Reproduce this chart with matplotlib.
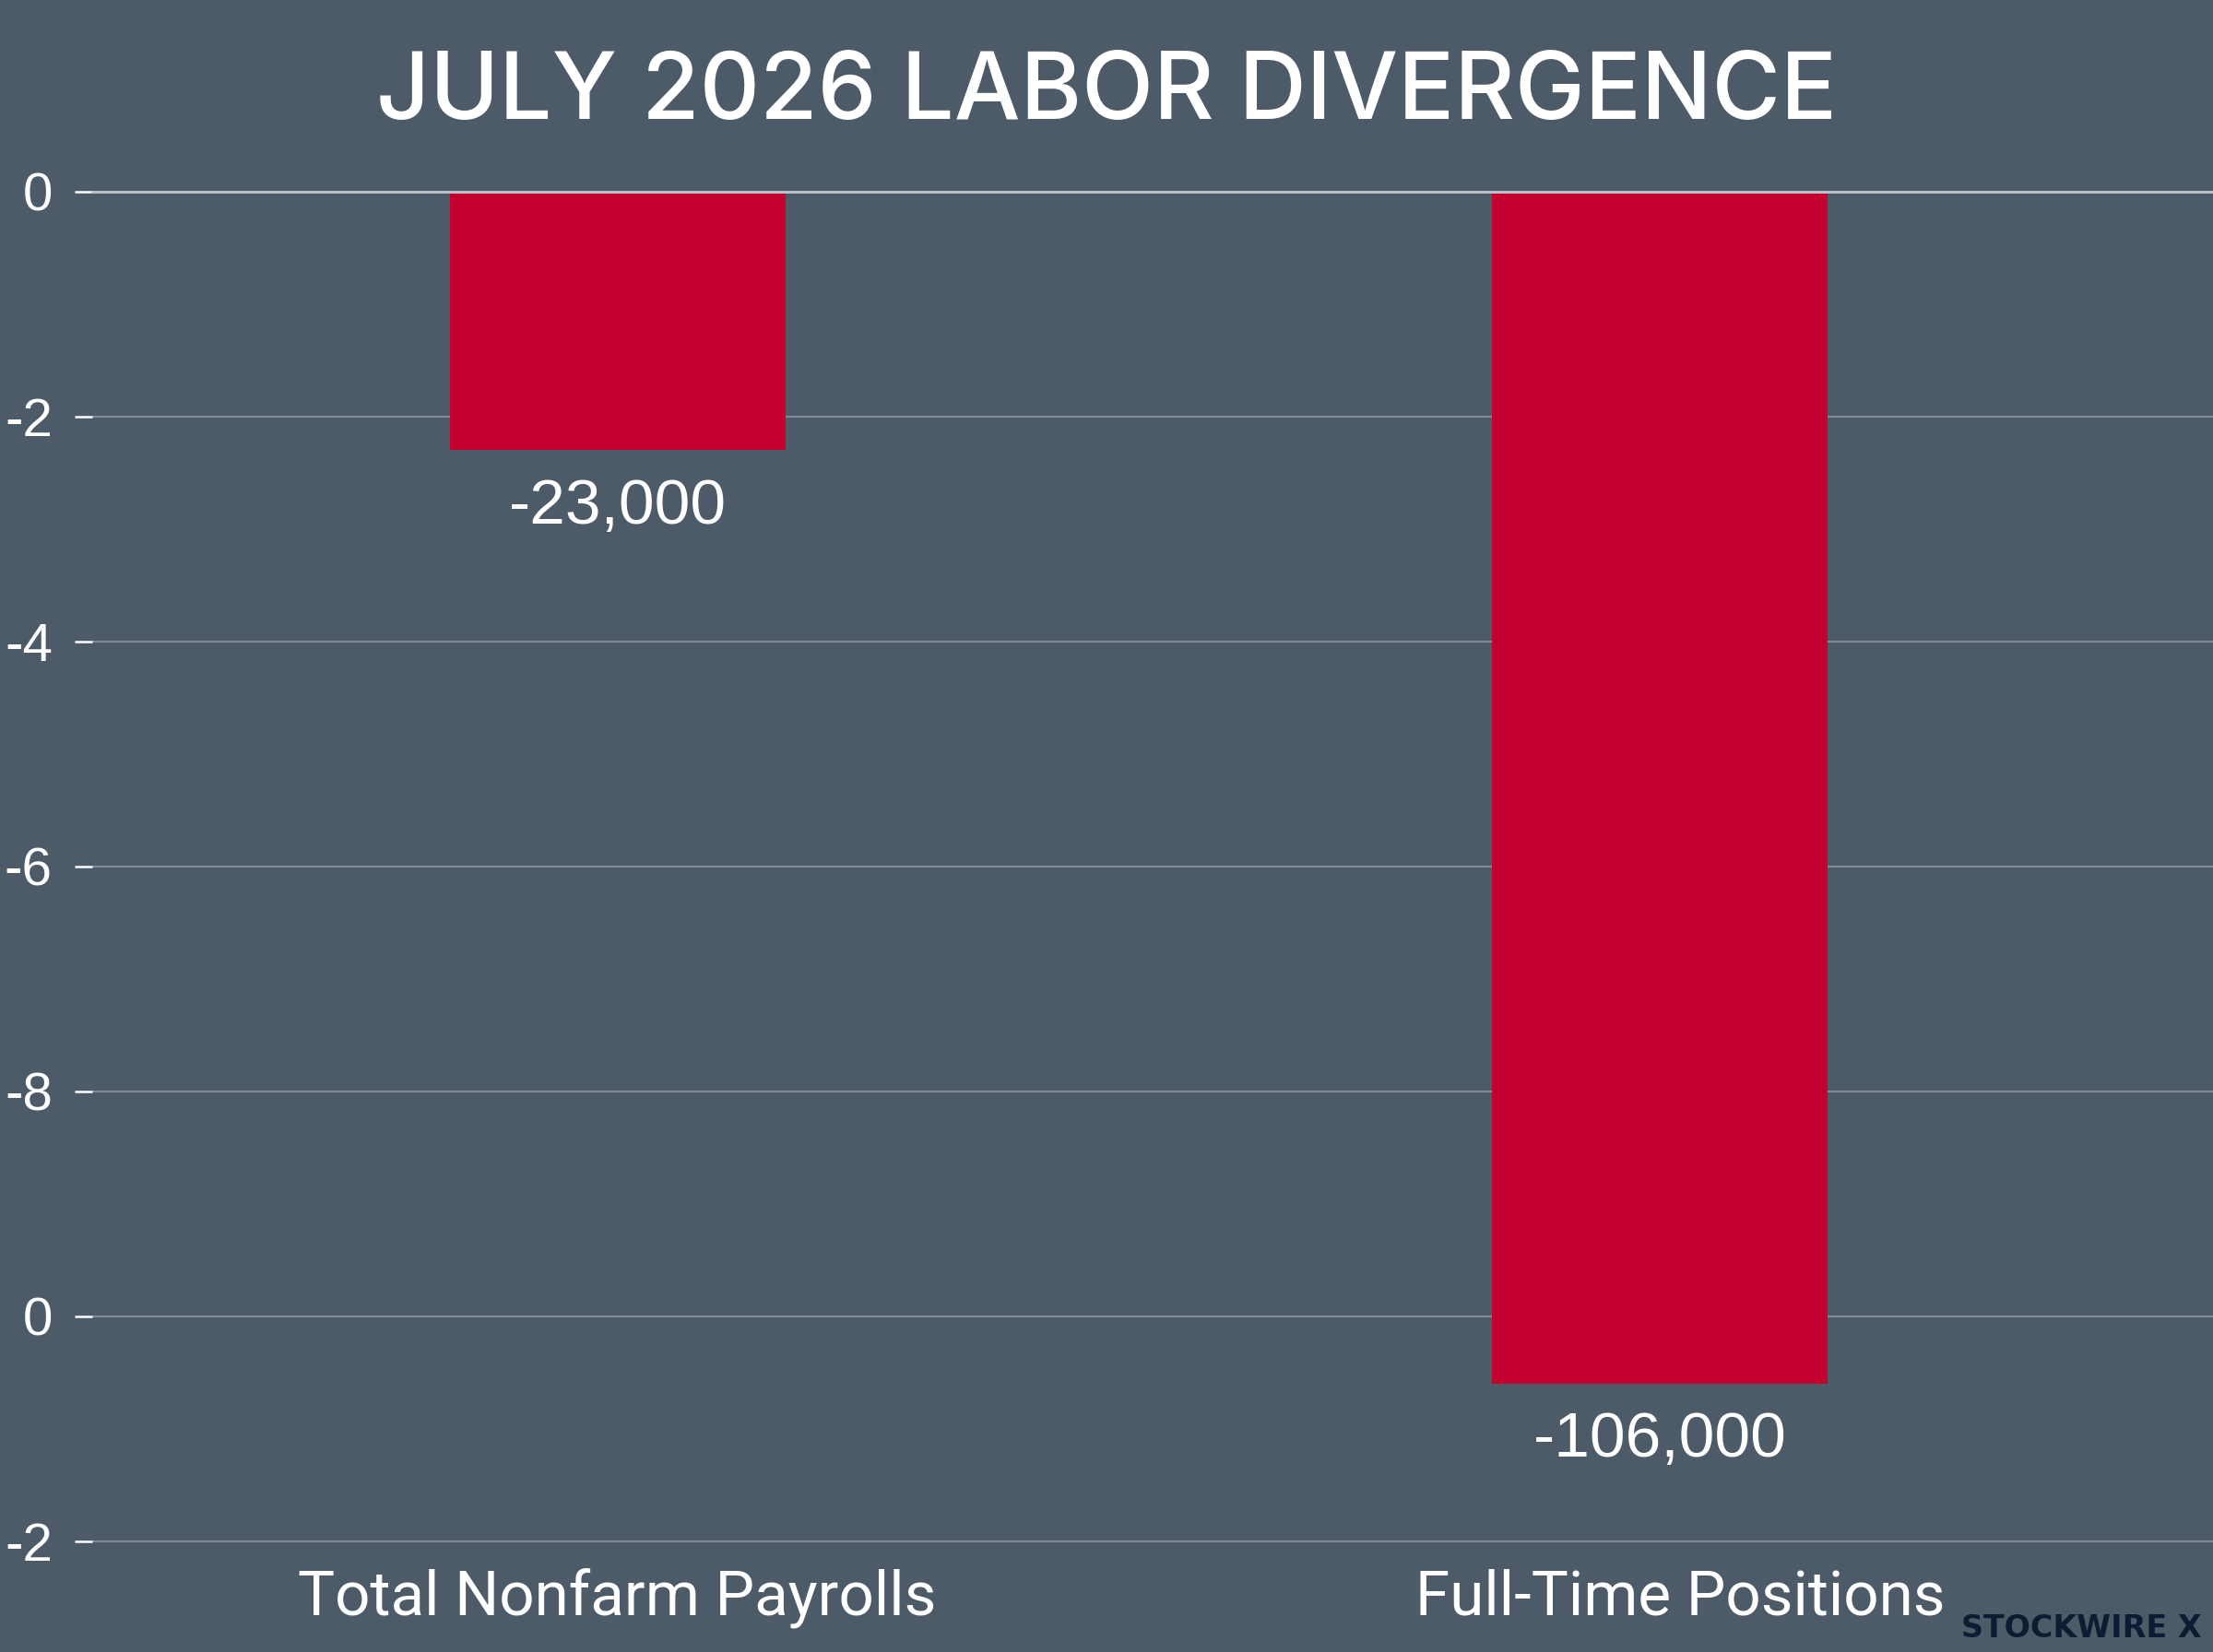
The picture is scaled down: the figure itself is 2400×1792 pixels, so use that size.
import matplotlib
matplotlib.use('Agg')
import matplotlib.pyplot as plt
import matplotlib.transforms as mtransforms

# data (thousands of jobs)
categories = ['Total Nonfarm Payrolls', 'Full-Time Positions']
changes = [-23, -106]
value_labels = ['-23,000', '-106,000']
tick_values = [0, -20, -40, -60, -80, -100, -120]
tick_labels = ['0', '-2', '-4', '-6', '-8', '0', '-2']

bg = '#4d5a68'
bar_red = '#c4002f'

fig = plt.figure(figsize=(24, 17.92), dpi=100, facecolor=bg)
ax = fig.add_axes([100 / 2400, 0.0536, 2300 / 2400, 0.8304])
ax.set_facecolor(bg)

x = list(range(len(categories)))
ax.bar(x, changes, width=0.322, color=bar_red, zorder=3)

ax.set_xlim(-0.504, 1.531)
ax.set_ylim(-122, 0)

# grid
for v in tick_values[1:]:
    ax.axhline(v, color='#8d97a2', lw=1.6, alpha=0.8, zorder=1)
ax.axhline(0, color='#b9c0c7', lw=2.2, zorder=4, clip_on=False)

ax.set_yticks(tick_values)
ax.set_yticklabels(tick_labels, fontfamily='Liberation Sans', fontsize=42, color='white')
ax.tick_params(axis='y', direction='out', length=14, width=1.8, color='white', pad=17)

ax.set_xticks(x)
ax.set_xticklabels(categories, fontfamily='Roboto', fontsize=48.5, color='white')
ax.tick_params(axis='x', length=0, pad=4)
# second category label sits a bit right of its bar in the original
lbl = ax.get_xticklabels()[1]
lbl.set_transform(lbl.get_transform() + mtransforms.ScaledTranslation(0.22, 0, fig.dpi_scale_trans))

for s in ax.spines.values():
    s.set_visible(False)

for xi, v, lab in zip(x, changes, value_labels):
    ax.annotate(lab, (xi, v), xytext=(0, -44), textcoords='offset points',
                ha='center', va='center', fontfamily='Liberation Sans',
                fontsize=50, color='white', zorder=5)

fig.text(0.5, 0.943, 'JULY 2026 LABOR DIVERGENCE', ha='center', va='center',
         fontfamily='Inter', fontweight='medium', fontsize=73, color='white')

fig.text(0.995, 0.005, 'STOCKWIRE X', ha='right', va='bottom',
         fontfamily='DejaVu Sans', fontweight='bold', fontsize=24, color='#0f1b33')

fig.savefig('out.png', dpi=100, facecolor=bg)
